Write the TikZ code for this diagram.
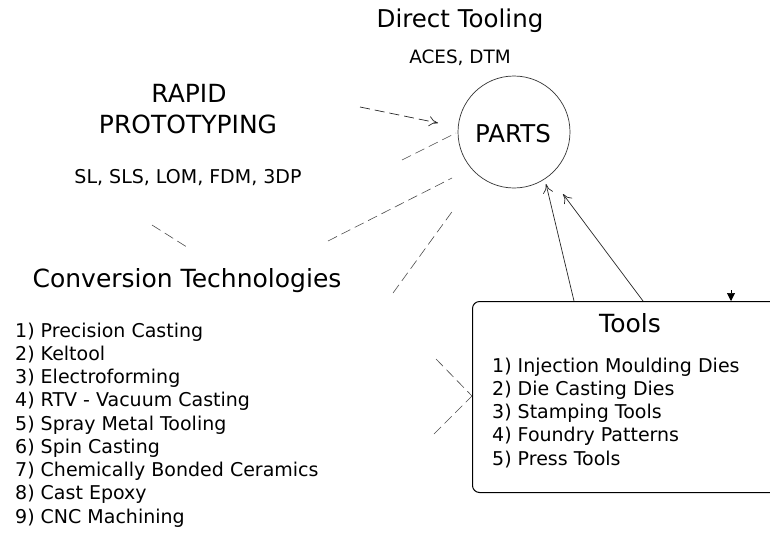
\documentclass[tikz,border=0pt]{standalone}
\usepackage{fontspec}
\setmainfont{DejaVu Sans}
\usetikzlibrary{arrows.meta}
\begin{document}
\begin{tikzpicture}[x=1pt,y=-1pt,
  lbl/.style={inner sep=0pt, anchor=base},
  item/.style={inner sep=0pt, anchor=base west, font=\fontsize{19}{23}\selectfont},
  big/.style={font=\fontsize{25}{30}\selectfont},
  faint/.style={draw=black!70, line width=0.6pt, dash pattern=on 10pt off 5pt},
  arr/.style={-{To[length=9pt,width=10pt]}, line width=0.7pt, draw=black!85},
]
\useasboundingbox (0,0) rectangle (770,541);
\clip (0,0) rectangle (770,541);

% titles
\node[lbl, font=\fontsize{24.5}{30}\selectfont] (dt) at (460,27) {Direct Tooling};
\node[lbl, font=\fontsize{18.4}{22}\selectfont] (aces) at (460,63) {ACES, DTM};

% PARTS
\node[circle, draw=black!80, line width=0.7pt, minimum size=112pt, inner sep=0pt] (parts) at (514,132) {};
\node[lbl, font=\fontsize{24.5}{30}\selectfont] (partslbl) at (513,142) {PARTS};

% Rapid prototyping
\node[lbl, big] (rp1) at (189,102) {RAPID};
\node[lbl, big] (rp2) at (188,133) {PROTOTYPING};
\node[lbl, font=\fontsize{19}{23}\selectfont] (rp3) at (188,183) {SL, SLS, LOM, FDM, 3DP};

% Conversion technologies
\node[lbl, big] (ct) at (187,287) {Conversion Technologies};
\foreach \t [count=\i] in {1) Precision Casting, 2) Keltool, 3) Electroforming,
  4) RTV - Vacuum Casting, 5) Spray Metal Tooling, 6) Spin Casting,
  7) Chemically Bonded Ceramics, 8) Cast Epoxy, 9) CNC Machining}
  \node[item] (ct\i) at (15,{337+23.25*(\i-1)}) {\t};

% Tools box
\node[draw, rounded corners=7pt, line width=1pt, minimum width=330pt, minimum height=191pt,
      anchor=north west, inner sep=0pt] (tools) at (472,301) {};
\node[lbl, big] (toolslbl) at (630,332) {Tools};
\foreach \t [count=\i] in {1) Injection Moulding Dies, 2) Die Casting Dies, 3) Stamping Tools,
  4) Foundry Patterns, 5) Press Tools}
  \node[item] (tl\i) at (492,{372+23.25*(\i-1)}) {\t};

% connector end points
\coordinate (rpA) at (360,107);
\coordinate (rpB) at (438,123);
\coordinate (c1a) at (328,241);
\coordinate (c1b) at (452,178);
\coordinate (c2a) at (393,293);
\coordinate (c2b) at (454,209);
\coordinate (c3a) at (402,160);
\coordinate (c3b) at (456,133);
\coordinate (c4a) at (152,225);
\coordinate (c4b) at (190,249);
\coordinate (t1a) at (436,359);
\coordinate (t1b) at (472,396);
\coordinate (t2a) at (434,434);
\coordinate (taA) at (574,301);
\coordinate (taB) at (546,184);
\coordinate (tbA) at (643,301);
\coordinate (tbB) at (563,194);
\coordinate (tcA) at (731,290);
\coordinate (tcB) at (731,301);

% connectors
\draw[faint, arr] (rpA) -- (rpB);
\draw[faint] (c1a) -- (c1b);
\draw[faint] (c2a) -- (c2b);
\draw[faint] (c3a) -- (c3b);
\draw[faint] (c4a) -- (c4b);
\draw[faint] (t1a) -- (t1b);
\draw[faint] (t2a) -- (t1b);
\draw[arr] (taA) -- (taB);
\draw[arr] (tbA) -- (tbB);
\draw[-{Triangle[length=8pt,width=8pt]}, line width=0.6pt] (tcA) -- (tcB);
\end{tikzpicture}
\end{document}
